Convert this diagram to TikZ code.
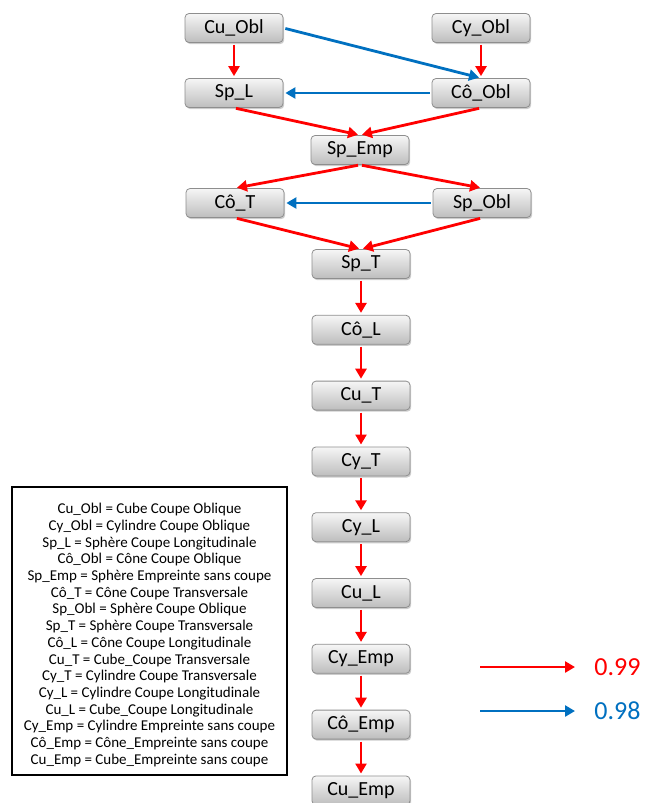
\documentclass[tikz,border=0pt]{standalone}
\usepackage{fontspec}
\setmainfont{Carlito}
\usepackage{tikz}
\usetikzlibrary{
  arrows.meta,
  positioning,
  shadows
}
\definecolor{cpRed}{HTML}{FF0000}
\definecolor{cpBlue}{HTML}{0070C0}
\definecolor{cpTop}{HTML}{F6F6F6}
\definecolor{cpBot}{HTML}{BDBDBD}
\definecolor{cpEdge}{HTML}{8E8E8E}
\tikzset{
  cutnode/.style={
    draw=cpEdge, rounded corners=2pt, minimum height=14.5pt, minimum width=49pt,
    inner sep=1pt, top color=cpTop, bottom color=cpBot,
    drop shadow={shadow xshift=0.6pt, shadow yshift=-0.8pt, opacity=0.4},
    font=\fontsize{10}{12}\selectfont
  },
  redflow/.style={-{Triangle[length=5pt, width=5.5pt]}, line width=1.4pt, cpRed,
    shorten <=1pt, shorten >=1pt},
  blueflow/.style={redflow, cpBlue},
  keybox/.style={draw, line width=0.7pt, minimum width=137.5pt, minimum height=144pt},
  keytext/.style={align=center, inner sep=0pt, font=\fontsize{7.5}{8.35}\selectfont},
  keyval/.style={anchor=west, inner sep=5pt, font=\fontsize{13}{15}\selectfont}
}
\begin{document}
\begin{tikzpicture}[x=0.5pt, y=-0.5pt, node distance=18.0pt]
  \useasboundingbox (0,0) rectangle (644,803);
  % oblique cuts
  \node[cutnode] (cuobl) at (234,28) {Cu\_Obl};
  \node[cutnode] (cyobl) at (481,28) {Cy\_Obl};
  \node[cutnode] (spl) at (234,93) {Sp\_L};
  \node[cutnode] (coobl) at (481,93) {Cô\_Obl};
  \node[cutnode] (spemp) at (360,150) {Sp\_Emp};
  \node[cutnode] (cot) at (235,203) {Cô\_T};
  \node[cutnode] (spobl) at (482,203) {Sp\_Obl};
  % main chain
  \node[cutnode] (spt) at (361,264) {Sp\_T};
  \node[cutnode, below=of spt] (col) {Cô\_L};
  \node[cutnode, below=of col] (cut) {Cu\_T};
  \node[cutnode, below=of cut] (cyt) {Cy\_T};
  \node[cutnode, below=of cyt] (cyl) {Cy\_L};
  \node[cutnode, below=of cyl] (cul) {Cu\_L};
  \node[cutnode, below=of cul] (cyemp) {Cy\_Emp};
  \node[cutnode, below=of cyemp] (coemp) {Cô\_Emp};
  \node[cutnode, below=of coemp] (cuemp) {Cu\_Emp};

  \draw[redflow] (cuobl.south) -- (spl.north);
  \draw[redflow] (cyobl.south) -- (coobl.north);
  \draw[blueflow] (cuobl.east) -- (coobl.north);
  \draw[blueflow] (coobl.west) -- (spl.east);
  \draw[redflow] (spl.south) -- (spemp.north);
  \draw[redflow] (coobl.south) -- (spemp.north);
  \draw[redflow] (spemp.south) -- (cot.north);
  \draw[redflow] (spemp.south) -- (spobl.north);
  \draw[blueflow] (spobl.west) -- (cot.east);
  \draw[redflow] (cot.south) -- (spt.north);
  \draw[redflow] (spobl.south) -- (spt.north);
  \draw[redflow] (spt) -- (col);
  \draw[redflow] (col) -- (cut);
  \draw[redflow] (cut) -- (cyt);
  \draw[redflow] (cyt) -- (cyl);
  \draw[redflow] (cyl) -- (cul);
  \draw[redflow] (cul) -- (cyemp);
  \draw[redflow] (cyemp) -- (coemp);
  \draw[redflow] (coemp) -- (cuemp);

  % abbreviations
  \node[keybox] (abbr) at (149.5,631) {};
  \node[keytext] (abbrtext) at (149.5,635) {
    Cu\_Obl = Cube Coupe Oblique\\
    Cy\_Obl = Cylindre Coupe Oblique\\
    Sp\_L = Sphère Coupe Longitudinale\\
    Cô\_Obl = Cône Coupe Oblique\\
    Sp\_Emp = Sphère Empreinte sans coupe\\
    Cô\_T = Cône Coupe Transversale\\
    Sp\_Obl = Sphère Coupe Oblique\\
    Sp\_T = Sphère Coupe Transversale\\
    Cô\_L = Cône Coupe Longitudinale\\
    Cu\_T = Cube\_Coupe Transversale\\
    Cy\_T = Cylindre Coupe Transversale\\
    Cy\_L = Cylindre Coupe Longitudinale\\
    Cu\_L = Cube\_Coupe Longitudinale\\
    Cy\_Emp = Cylindre Empreinte sans coupe\\
    Cô\_Emp = Cône\_Empreinte sans coupe\\
    Cu\_Emp = Cube\_Empreinte sans coupe};

  % values
  \coordinate (k99) at (478,667);
  \coordinate (k98) at (478,711);
  \node[keyval, text=cpRed] (v99) at (584,667) {0.99};
  \node[keyval, text=cpBlue] (v98) at (584,711) {0.98};
  \draw[redflow, shorten >=4.5pt] (k99) -- (v99.west);
  \draw[blueflow, shorten >=4.5pt] (k98) -- (v98.west);
\end{tikzpicture}
\end{document}
